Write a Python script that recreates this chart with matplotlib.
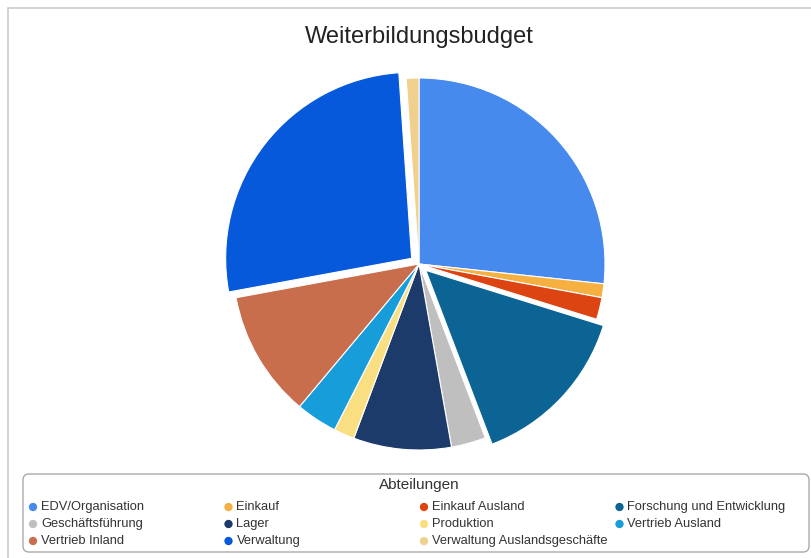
import numpy as np
import matplotlib
matplotlib.use("Agg")
import matplotlib.pyplot as plt
from matplotlib.patches import Rectangle, FancyBboxPatch

plt.rcParams['font.family'] = ['Liberation Sans', 'DejaVu Sans']

# data (percent of budget)
departments = ['EDV/Organisation', 'Einkauf', 'Einkauf Ausland',
               'Forschung und Entwicklung', 'Geschäftsführung', 'Lager',
               'Produktion', 'Vertrieb Ausland', 'Vertrieb Inland',
               'Verwaltung', 'Verwaltung Auslandsgeschäfte']
shares = [26.7, 1.2, 1.9, 14.4, 3.0, 8.5, 1.8, 3.6, 11.0, 26.8, 1.1]
exploded = ['Forschung und Entwicklung', 'Verwaltung']
colors = ['#458AEC', '#F5B041', '#DC4412', '#0B6494', '#BFBFBF', '#1C3A6A',
          '#F9DF82', '#179DD9', '#C96E4C', '#0659DA', '#EFD08E']

W, H = 811, 558
fig = plt.figure(figsize=(W / 100, H / 100), dpi=100)

# outer chart frame (only top and left edges visible)
fig.add_artist(Rectangle((8 / W, -0.1), 1.2, 1.1 - 8 / H, transform=fig.transFigure,
                         facecolor='none', edgecolor='#cccccc', lw=1.2))

# pie axes: centre (419, 264) px, radius 186 px
cx, cy, r = 419, 264, 186
lim = 1.2
size = 2 * lim * r
ax = fig.add_axes([(cx - size / 2) / W, (H - cy - size / 2) / H, size / W, size / H])
explode = [0.05 if d in exploded else 0 for d in departments]
ax.pie(shares, colors=colors, explode=explode, startangle=90, counterclock=False,
       radius=1, wedgeprops=dict(edgecolor='white', linewidth=0.8))
ax.set_xlim(-lim, lim)
ax.set_ylim(-lim, lim)
ax.set_aspect('equal')
ax.axis('off')

fig.text(cx / W, 1 - 37 / H, 'Weiterbildungsbudget', ha='center', va='center',
         fontsize=17, color='#222222')

# legend box
lx0, ly0, lx1, ly1 = 22, 473, 810, 553
lax = fig.add_axes([lx0 / W, 1 - ly1 / H, (lx1 - lx0) / W, (ly1 - ly0) / H])
lax.set_xlim(lx0, lx1)
lax.set_ylim(ly1, ly0)
lax.axis('off')
lax.add_patch(FancyBboxPatch((lx0 + 1, ly0 + 1), lx1 - lx0 - 2, ly1 - ly0 - 2,
                             boxstyle='round,pad=0,rounding_size=6',
                             facecolor='white', edgecolor='#aaaaaa', lw=1.0,
                             clip_on=False))
lax.text(419, 485, 'Abteilungen', ha='center', va='center',
         fontsize=11, color='#333333')
ncol = 4
for i, (name, col) in enumerate(zip(departments, colors)):
    row, c = divmod(i, ncol)
    x = 33 + c * 195.5
    y = 507 + row * 17
    lax.scatter([x], [y], s=36, color=col, edgecolors='none', clip_on=False)
    lax.text(x + 8, y, name, ha='left', va='center', fontsize=9.3, color='#333333')

fig.savefig('out.png', dpi=100, facecolor='white')
